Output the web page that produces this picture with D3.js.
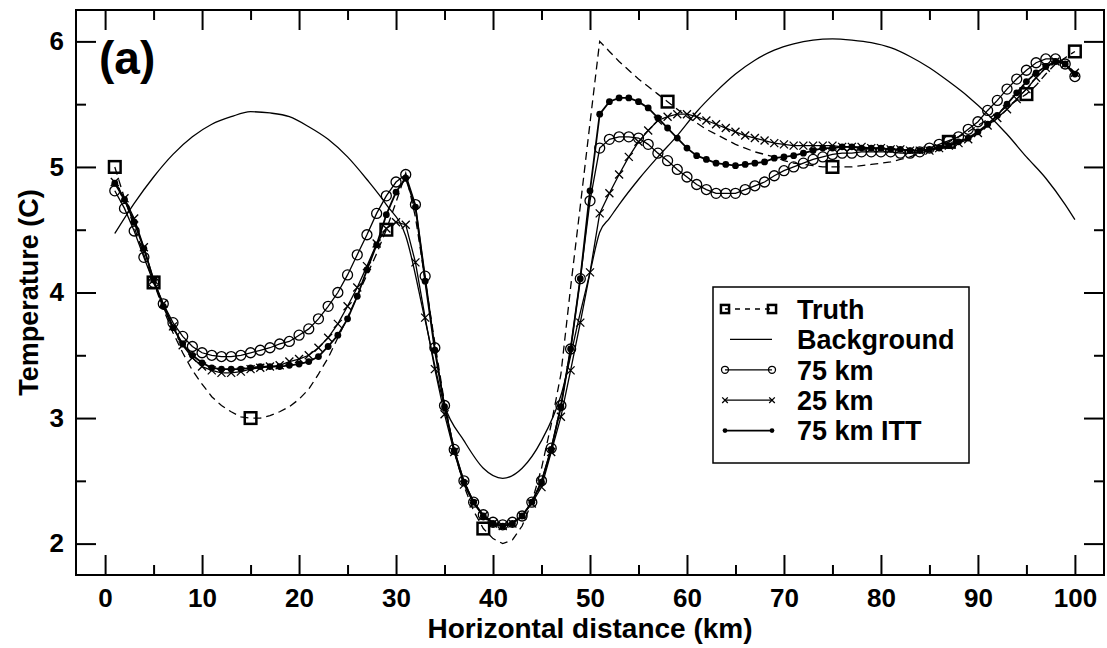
<!DOCTYPE html>
<html>
<head>
<meta charset="utf-8">
<script src="https://cdn.jsdelivr.net/npm/d3@7"></script>
<style>
  body { margin: 0; background: #fff; }
  text { font-family: "Liberation Sans", Arial, sans-serif; font-weight: bold; fill: #000; }
</style>
</head>
<body>
<svg id="chart" width="1107" height="648"></svg>
<script>
// Horizontal positions (km) of the model points.
const km = d3.range(1, 101);

// Truth profile, read every km.
const truth = [
  5.00, 4.75, 4.52, 4.30, 4.08, 3.87, 3.68, 3.52, 3.38, 3.27,
  3.17, 3.10, 3.05, 3.01, 3.00, 3.00, 3.02, 3.05, 3.09, 3.15,
  3.23, 3.35, 3.48, 3.64, 3.80, 3.97, 4.14, 4.31, 4.50, 4.72,
  4.95, 4.60, 4.10, 3.60, 3.12, 2.74, 2.46, 2.26, 2.12, 2.04,
  2.00, 2.03, 2.14, 2.33, 2.60, 2.95, 3.35, 4.04, 4.69, 5.35,
  6.00, 5.92, 5.84, 5.77, 5.70, 5.64, 5.58, 5.52, 5.46, 5.40,
  5.35, 5.30, 5.26, 5.22, 5.18, 5.15, 5.12, 5.10, 5.08, 5.05,
  5.03, 5.02, 5.01, 5.00, 5.00, 5.00, 5.00, 5.01, 5.02, 5.03,
  5.04, 5.06, 5.08, 5.11, 5.13, 5.16, 5.20, 5.24, 5.28, 5.33,
  5.38, 5.43, 5.48, 5.53, 5.58, 5.65, 5.74, 5.82, 5.87, 5.92
];

// Observation points marked with squares.
const obsKm = [1, 5, 15, 29, 39, 58, 75, 87, 95, 100];
const obsTemp = [5.00, 4.08, 3.00, 4.50, 2.12, 5.52, 5.00, 5.20, 5.58, 5.92];

// Background field, read every 2 km (plus the kink near 51 km).
const bgKm = [1, 3, 5, 7, 9, 11, 13, 15, 17, 19, 21, 23, 25, 27, 29, 31, 33, 35, 37, 39,
  41, 43, 45, 47, 49, 50, 51, 52, 53, 55, 57, 59, 61, 63, 65, 67, 69, 71, 73, 75, 77, 79,
  81, 83, 85, 87, 89, 91, 93, 95, 97, 99, 100];
const bgTemp = [4.47, 4.71, 4.92, 5.10, 5.24, 5.34, 5.40, 5.44, 5.43, 5.40, 5.32, 5.22, 5.08, 4.90, 4.70, 4.45, 3.78, 3.10, 2.82, 2.60,
  2.52, 2.60, 2.82, 3.18, 3.84, 4.16, 4.48, 4.59, 4.70, 4.90, 5.08, 5.25, 5.44, 5.60, 5.74, 5.85, 5.93, 5.98, 6.01, 6.02, 6.01, 5.99,
  5.95, 5.88, 5.79, 5.68, 5.56, 5.42, 5.26, 5.08, 4.91, 4.70, 4.58];

// Analysis, 75 km correlation length.
const run75 = [
  4.81, 4.67, 4.49, 4.28, 4.08, 3.91, 3.76, 3.65, 3.57, 3.52,
  3.50, 3.49, 3.49, 3.50, 3.52, 3.54, 3.56, 3.59, 3.61, 3.66,
  3.71, 3.79, 3.89, 4.00, 4.14, 4.30, 4.46, 4.63, 4.77, 4.88,
  4.94, 4.70, 4.13, 3.56, 3.10, 2.75, 2.50, 2.33, 2.23, 2.17,
  2.15, 2.17, 2.22, 2.33, 2.50, 2.76, 3.10, 3.55, 4.11, 4.73,
  5.15, 5.22, 5.24, 5.24, 5.23, 5.18, 5.11, 5.05, 4.98, 4.92,
  4.86, 4.82, 4.79, 4.79, 4.79, 4.82, 4.85, 4.88, 4.93, 4.97,
  5.00, 5.03, 5.06, 5.08, 5.10, 5.11, 5.11, 5.12, 5.12, 5.12,
  5.12, 5.11, 5.11, 5.12, 5.15, 5.18, 5.21, 5.24, 5.30, 5.36,
  5.45, 5.53, 5.62, 5.70, 5.77, 5.83, 5.86, 5.86, 5.82, 5.72
];

// Analysis, 25 km correlation length.
const run25 = [
  4.88, 4.75, 4.59, 4.36, 4.10, 3.91, 3.73, 3.58, 3.48, 3.41,
  3.38, 3.36, 3.36, 3.37, 3.39, 3.40, 3.41, 3.42, 3.45, 3.47,
  3.50, 3.56, 3.64, 3.75, 3.89, 4.04, 4.21, 4.39, 4.51, 4.56,
  4.54, 4.24, 3.80, 3.39, 3.03, 2.73, 2.47, 2.32, 2.22, 2.16,
  2.14, 2.16, 2.22, 2.32, 2.45, 2.73, 3.01, 3.38, 3.76, 4.16,
  4.63, 4.79, 4.94, 5.08, 5.20, 5.29, 5.37, 5.40, 5.42, 5.42,
  5.40, 5.37, 5.34, 5.31, 5.28, 5.25, 5.23, 5.21, 5.19, 5.18,
  5.17, 5.17, 5.17, 5.17, 5.17, 5.16, 5.16, 5.16, 5.15, 5.15,
  5.14, 5.14, 5.13, 5.13, 5.13, 5.15, 5.17, 5.19, 5.22, 5.27,
  5.33, 5.39, 5.46, 5.54, 5.62, 5.71, 5.79, 5.84, 5.82, 5.75
];

// Analysis, 75 km with ITT.
const run75itt = [
  4.87, 4.74, 4.56, 4.35, 4.10, 3.89, 3.72, 3.59, 3.50, 3.44,
  3.40, 3.39, 3.39, 3.39, 3.40, 3.41, 3.41, 3.41, 3.42, 3.43,
  3.45, 3.49, 3.57, 3.66, 3.79, 3.97, 4.18, 4.38, 4.62, 4.80,
  4.91, 4.68, 4.09, 3.54, 3.09, 2.74, 2.49, 2.33, 2.22, 2.16,
  2.14, 2.16, 2.22, 2.33, 2.49, 2.75, 3.09, 3.55, 4.11, 4.81,
  5.42, 5.52, 5.55, 5.55, 5.52, 5.47, 5.39, 5.31, 5.23, 5.15,
  5.09, 5.06, 5.03, 5.02, 5.01, 5.02, 5.03, 5.04, 5.07, 5.08,
  5.09, 5.11, 5.13, 5.15, 5.15, 5.16, 5.16, 5.15, 5.15, 5.15,
  5.14, 5.14, 5.13, 5.13, 5.14, 5.15, 5.17, 5.20, 5.23, 5.28,
  5.34, 5.41, 5.50, 5.59, 5.68, 5.75, 5.80, 5.84, 5.82, 5.74
];

const xMajor = d3.range(0, 101, 10);
const xMinor = d3.range(5, 100, 10);
const yMajor = [2, 3, 4, 5, 6];
const yMinor = [2.5, 3.5, 4.5, 5.5];

const legendLabels = ["Truth", "Background", "75 km", "25 km", "75 km ITT"];

(function () {
  const svg = d3.select("#chart");
  const left = 76, right = 1104, top = 10, bottom = 575;

  const x = d3.scaleLinear().domain([-3, 103]).range([left, right]);
  const y = d3.scaleLinear().domain([1.75, 6.25]).range([bottom, top]);

  const pts = (xs, ys) => xs.map((k, i) => ({ k: k, v: ys[i] }));
  const line = d3.line().x((d) => x(d.k)).y((d) => y(d.v));

  // Axes with inward ticks on all four sides.
  function tidy(g) {
    g.select(".domain").remove();
    g.selectAll(".tick line").attr("stroke", "#000").attr("stroke-width", 2);
  }
  const fmt = d3.format("d");

  svg.append("g").attr("transform", `translate(0,${bottom})`)
    .call(d3.axisBottom(x).tickValues(xMajor).tickSize(-20).tickPadding(14).tickFormat(fmt))
    .call(tidy)
    .selectAll("text").style("font-size", "26px").attr("fill", "#000");
  svg.append("g").attr("transform", `translate(0,${bottom})`)
    .call(d3.axisBottom(x).tickValues(xMinor).tickSize(-10).tickFormat(""))
    .call(tidy);
  svg.append("g").attr("transform", `translate(0,${top})`)
    .call(d3.axisTop(x).tickValues(xMajor).tickSize(-20).tickFormat(""))
    .call(tidy);
  svg.append("g").attr("transform", `translate(0,${top})`)
    .call(d3.axisTop(x).tickValues(xMinor).tickSize(-10).tickFormat(""))
    .call(tidy);

  svg.append("g").attr("transform", `translate(${left},0)`)
    .call(d3.axisLeft(y).tickValues(yMajor).tickSize(-20).tickPadding(12).tickFormat(fmt))
    .call(tidy)
    .selectAll("text").style("font-size", "26px").attr("fill", "#000");
  svg.append("g").attr("transform", `translate(${left},0)`)
    .call(d3.axisLeft(y).tickValues(yMinor).tickSize(-10).tickFormat(""))
    .call(tidy);
  svg.append("g").attr("transform", `translate(${right},0)`)
    .call(d3.axisRight(y).tickValues(yMajor).tickSize(-20).tickFormat(""))
    .call(tidy);
  svg.append("g").attr("transform", `translate(${right},0)`)
    .call(d3.axisRight(y).tickValues(yMinor).tickSize(-10).tickFormat(""))
    .call(tidy);

  // Frame.
  svg.append("rect")
    .attr("x", left).attr("y", top)
    .attr("width", right - left).attr("height", bottom - top)
    .attr("fill", "none").attr("stroke", "#000").attr("stroke-width", 2);

  // Axis titles and panel label.
  svg.append("text")
    .attr("x", (left + right) / 2).attr("y", 638)
    .attr("text-anchor", "middle").style("font-size", "28px")
    .text("Horizontal distance (km)");
  svg.append("text")
    .attr("transform", `translate(38,${(top + bottom) / 2}) rotate(-90)`)
    .attr("text-anchor", "middle").style("font-size", "27px")
    .text("Temperature (C)");
  svg.append("text")
    .attr("x", 99).attr("y", 74)
    .style("font-size", "46px")
    .text("(a)");

  const plot = svg.append("g");

  // Truth (dashed) and background (thin solid).
  plot.append("path").datum(pts(km, truth))
    .attr("d", line).attr("fill", "none").attr("stroke", "#000")
    .attr("stroke-width", 1.3).attr("stroke-dasharray", "8,5");
  plot.append("path").datum(pts(bgKm, bgTemp))
    .attr("d", line.curve(d3.curveMonotoneX)).attr("fill", "none")
    .attr("stroke", "#000").attr("stroke-width", 1.3);
  line.curve(d3.curveLinear);

  // Marker series.
  const series = [
    { data: run75, width: 1.3, mark: "circle" },
    { data: run25, width: 1.3, mark: "cross" },
    { data: run75itt, width: 1.8, mark: "dot" },
  ];

  function drawMark(g, type, size) {
    if (type === "circle") {
      g.append("circle").attr("r", 5 * size).attr("fill", "none")
        .attr("stroke", "#000").attr("stroke-width", 1.3);
    } else if (type === "cross") {
      const s = 4 * size;
      g.append("path").attr("d", `M${-s},${-s}L${s},${s}M${-s},${s}L${s},${-s}`)
        .attr("stroke", "#000").attr("stroke-width", 1.3);
    } else if (type === "dot") {
      g.append("circle").attr("r", 3.4 * size).attr("fill", "#000");
    } else if (type === "square") {
      const s = 5.8 * size;
      g.append("rect").attr("x", -s).attr("y", -s).attr("width", 2 * s).attr("height", 2 * s)
        .attr("fill", "none").attr("stroke", "#000").attr("stroke-width", 2.5);
    }
  }

  series.forEach((s) => {
    const d = pts(km, s.data);
    plot.append("path").datum(d).attr("d", line)
      .attr("fill", "none").attr("stroke", "#000").attr("stroke-width", s.width);
    plot.append("g").selectAll("g").data(d).enter().append("g")
      .attr("transform", (p) => `translate(${x(p.k)},${y(p.v)})`)
      .each(function () { drawMark(d3.select(this), s.mark, 1); });
  });

  // Observation squares.
  plot.append("g").selectAll("g").data(pts(obsKm, obsTemp)).enter().append("g")
    .attr("transform", (p) => `translate(${x(p.k)},${y(p.v)})`)
    .each(function () { drawMark(d3.select(this), "square", 1); });

  // Legend.
  const lg = svg.append("g");
  lg.append("rect").attr("x", 713).attr("y", 287).attr("width", 256).attr("height", 176)
    .attr("fill", "#fff").attr("stroke", "#000").attr("stroke-width", 1.5);
  const marks = ["square", null, "circle", "cross", "dot"];
  legendLabels.forEach((label, i) => {
    const cy = 309 + i * 30.4;
    lg.append("line").attr("y1", cy).attr("y2", cy)
      .attr("x1", i === 1 ? 730 : 725).attr("x2", 772)
      .attr("stroke", "#000").attr("stroke-width", i === 4 ? 1.8 : 1.3)
      .attr("stroke-dasharray", i === 0 ? "5,5" : null);
    if (marks[i]) {
      [725, 772].forEach((mx) => {
        const g = lg.append("g").attr("transform", `translate(${mx},${cy})`);
        drawMark(g, marks[i], 0.7);
      });
    }
    lg.append("text").attr("x", 797).attr("y", cy).attr("dy", "0.36em")
      .style("font-size", "27px").text(label);
  });
})();
</script>
</body>
</html>
